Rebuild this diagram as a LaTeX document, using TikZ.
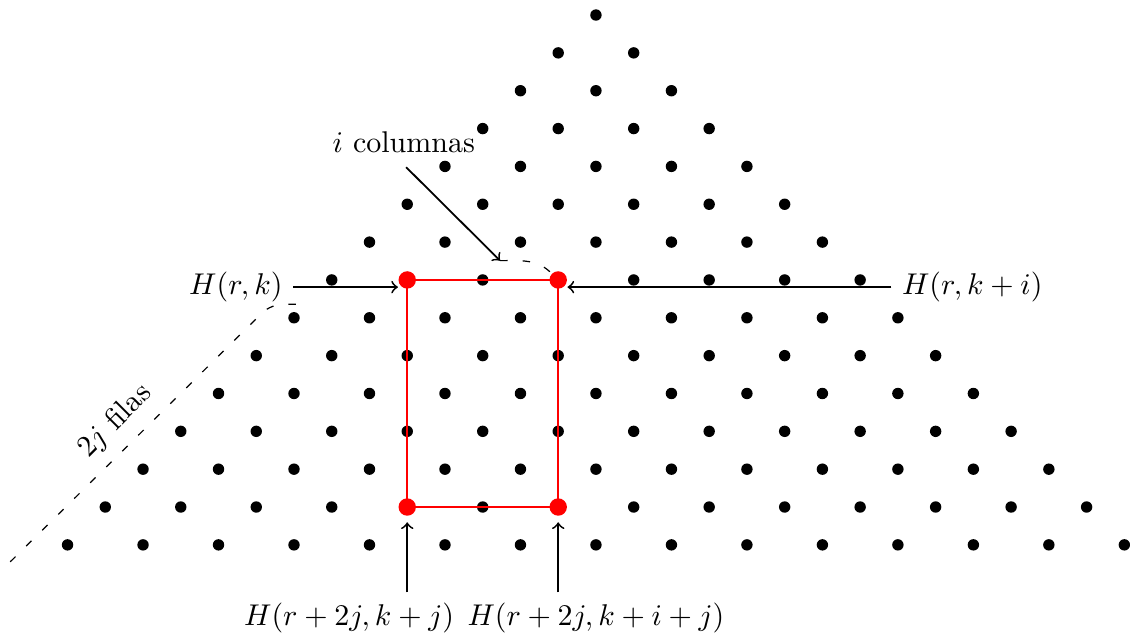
\documentclass[tikz,border=0pt]{standalone}
\usepackage{amsmath}
\usepackage{amssymb}
\usetikzlibrary{arrows,positioning}

\tikzset{
    punto/.style={circle, fill=black, inner sep=0pt, minimum size=3.8pt},
    esquina/.style={circle, fill=red, inner sep=0pt, minimum size=5.8pt},
    flecha/.style={->, semithick},
    guia/.style={thin, dash pattern=on 2.5pt off 5pt},
}

\begin{document}
\begin{tikzpicture}[x=0.442cm, y=0.4432cm]
    \useasboundingbox (-15.79,0.397) rectangle (14.15,-16.53);

    \foreach \r in {0,...,14} {
        \foreach \k in {0,...,\r} {
            \node[punto] (p-\r-\k) at ({2*\k-\r},-\r) {};
        }
    }

    \draw[red, thick] (p-7-1.center) -- (p-7-3.center) -- (p-13-6.center) -- (p-13-4.center) -- cycle;
    \node[esquina] (c1) at (p-7-1) {};
    \node[esquina] (c2) at (p-7-3) {};
    \node[esquina] (c3) at (p-13-4) {};
    \node[esquina] (c4) at (p-13-6) {};

    \node (hrk) at (-9.54,-7.19) {$H(r,k)$};
    \node (hrki) at (9.97,-7.19) {$H(r,k+i)$};
    \node (hrjk) at (-6.54,-15.93) {$H(r+2j,k+j)$};
    \node (hrjki) at (0,-15.93) {$H(r+2j,k+i+j)$};
    \node (icol) at (-5.09,-3.36) {$i$ columnas};
    \node[rotate=45] (jfil) at (-12.74,-10.73) {$2j$ filas};

    \draw[flecha] (hrk.east) -- (hrk.east -| c1.west);
    \draw[flecha] (hrki.west) -- (hrki.west -| c2.east);
    \draw[flecha, shorten >=2pt] (hrjk.north -| c3) -- (c3.south);
    \draw[flecha, shorten >=2pt] (hrjki.north -| c4) -- (c4.south);

    \coordinate (ic1) at (-5.03,-4.02);
    \coordinate (ic2) at (-2.54,-6.49);
    \draw[flecha] (ic1) -- (ic2);
    \draw[guia] (ic2) to[out=0, in=135] (c2);

    \coordinate (f1) at (-15.52,-14.45);
    \coordinate (f2) at (-8.61,-7.64);
    \coordinate (f3) at (-7.84,-7.64);
    \draw[guia, rounded corners=4pt] (f1) -- (f2) -- (f3);
\end{tikzpicture}
\end{document}
